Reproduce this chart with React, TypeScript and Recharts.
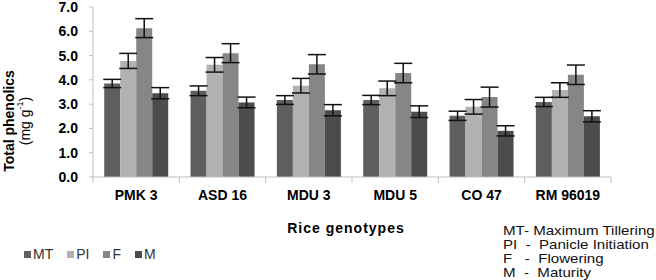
import { Bar, BarChart, XAxis, YAxis, ErrorBar } from 'recharts';

const genotypes = ['PMK 3', 'ASD 16', 'MDU 3', 'MDU 5', 'CO 47', 'RM 96019'];

// mean values per growth stage (mg g-1)
const mtValues = [3.85, 3.55, 3.17, 3.17, 2.52, 3.09];
const piValues = [4.78, 4.62, 3.76, 3.65, 2.89, 3.58];
const fValues = [6.13, 5.1, 4.64, 4.28, 3.29, 4.21];
const mValues = [3.45, 3.07, 2.75, 2.69, 1.9, 2.5];

// error bar half-lengths
const mtErr = [0.17, 0.2, 0.18, 0.19, 0.19, 0.19];
const piErr = [0.31, 0.3, 0.3, 0.3, 0.3, 0.3];
const fErr = [0.39, 0.39, 0.4, 0.4, 0.41, 0.4];
const mErr = [0.23, 0.22, 0.23, 0.24, 0.21, 0.23];

const yTicks = [0, 1, 2, 3, 4, 5, 6, 7];

const stageNotes = [
  'MT- Maximum Tillering',
  'PI  -  Panicle Initiation',
  'F   -  Flowering',
  'M  -  Maturity',
];

const series = [
  { key: 'MT', err: 'mtErr', color: '#5f5f5f' },
  { key: 'PI', err: 'piErr', color: '#b1b1b1' },
  { key: 'F', err: 'fErr', color: '#868686' },
  { key: 'M', err: 'mErr', color: '#4c4c4c' },
];

const chartData = genotypes.map((name, i) => ({
  name,
  MT: mtValues[i],
  PI: piValues[i],
  F: fValues[i],
  M: mValues[i],
  mtErr: mtErr[i],
  piErr: piErr[i],
  fErr: fErr[i],
  mErr: mErr[i],
}));

const font = 'Arial, "Liberation Sans", sans-serif';
const axisGrey = '#bfbfbf';

const GenotypeTick = (props: any) => {
  const { x, y, payload, index, visibleTicksCount } = props;
  const half = payload?.offset ?? 43;
  const last = index === visibleTicksCount - 1;
  return (
    <g>
      <line x1={x - half} x2={x - half} y1={y} y2={y + 6} stroke={axisGrey} />
      {last && <line x1={x + half} x2={x + half} y1={y} y2={y + 6} stroke={axisGrey} />}
      <text
        x={x}
        y={y + 23}
        textAnchor="middle"
        fontFamily={font}
        fontWeight="bold"
        fontSize={14}
        fill="#000"
      >
        {payload.value}
      </text>
    </g>
  );
};

const YLabel = () => (
  <g fontFamily={font} fontSize={14} fill="#000">
    <text
      transform="translate(9,121) rotate(-90)"
      textAnchor="middle"
      dominantBaseline="central"
      fontWeight="bold"
    >
      Total phenolics
    </text>
    <text transform="translate(25,121) rotate(-90)" textAnchor="middle" dominantBaseline="central">
      (mg g<tspan fontSize={9} dy={-5}>-1</tspan>
      <tspan dy={5}>)</tspan>
    </text>
  </g>
);

export default function App() {
  return (
    <div style={{ position: 'absolute', left: 0, top: 0, width: 656, height: 280, background: '#fff' }}>
      <BarChart
        width={656}
        height={280}
        data={chartData}
        margin={{ top: 7, right: 45, left: 0, bottom: 0 }}
        barGap={0}
        barCategoryGap="13%"
      >
        <XAxis
          dataKey="name"
          height={103}
          tickLine={false}
          tickSize={0}
          tickMargin={0}
          axisLine={{ stroke: axisGrey }}
          tick={<GenotypeTick />}
          interval={0}
          label={({ viewBox }: any) => (
            <text
              x={viewBox.x + viewBox.width / 2 - 6}
              y={233}
              textAnchor="middle"
              fontFamily={font}
              fontWeight="bold"
              fontSize={14}
              letterSpacing={1}
              fill="#000"
            >
              Rice genotypes
            </text>
          )}
        />
        <YAxis
          width={93}
          domain={[0, 7]}
          ticks={yTicks}
          interval={0}
          tickSize={4}
          tickMargin={11}
          axisLine={{ stroke: axisGrey }}
          tickLine={{ stroke: axisGrey }}
          tickFormatter={(v: number) => v.toFixed(1)}
          tick={{ fontFamily: font, fontWeight: 'bold', fontSize: 14, fill: '#000' }}
          label={<YLabel />}
        />
        {series.map((s) => (
          <Bar key={s.key} dataKey={s.key} fill={s.color} isAnimationActive={false}>
            <ErrorBar dataKey={s.err} width={9} stroke="#111" strokeWidth={1.5} />
          </Bar>
        ))}
      </BarChart>
      <div
        style={{
          position: 'absolute',
          left: 24,
          top: 246,
          display: 'flex',
          fontFamily: font,
          fontSize: 14,
          color: '#333',
        }}
      >
        {series.map((s) => (
          <div key={s.key} style={{ display: 'flex', alignItems: 'center', marginRight: 14 }}>
            <span style={{ width: 7, height: 7, background: s.color, marginRight: 2 }} />
            <span>{s.key}</span>
          </div>
        ))}
      </div>
      <div
        style={{
          position: 'absolute',
          left: 503,
          top: 224,
          fontFamily: font,
          fontSize: 13,
          lineHeight: '14px',
          color: '#111',
          whiteSpace: 'pre',
          transform: 'scaleX(1.16)',
          transformOrigin: 'left top',
        }}
      >
        {stageNotes.map((t) => (
          <div key={t}>{t}</div>
        ))}
      </div>
    </div>
  );
}
